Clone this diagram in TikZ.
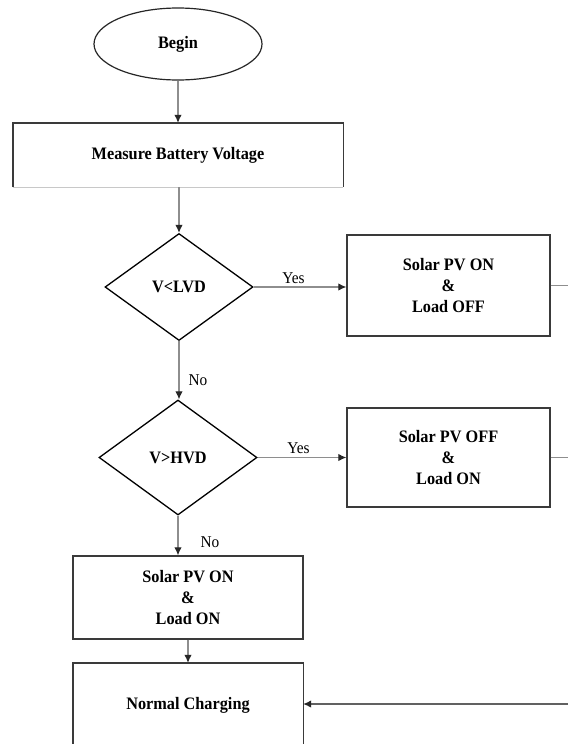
\documentclass[tikz,border=0pt]{standalone}
\usepackage{fontspec}
\setmainfont[FakeStretch=0.93]{Liberation Serif}
\usetikzlibrary{shapes.geometric,arrows.meta}
\definecolor{boxline}{HTML}{3A3A3A}
\definecolor{conn}{HTML}{8E8E8E}
\definecolor{faint}{HTML}{C8C8C8}
\begin{document}
\begin{tikzpicture}[x=1pt,y=-1pt,
  lbl/.style={font=\fontsize{17.5}{21}\selectfont\bfseries, align=center},
  procbox/.style={draw=boxline, line width=1.4pt, rectangle, inner sep=0pt, lbl},
  openbox/.style={draw=none, rectangle, inner sep=0pt, lbl},
  decision/.style={draw=black, line width=1.3pt, diamond, inner sep=0pt, lbl},
  terminal/.style={draw=black!85, line width=1.2pt, ellipse, inner sep=0pt, lbl},
  flow/.style={draw=conn, line width=1.2pt, -{Latex[length=8pt,width=7.5pt,color=black!85]}},
  plain/.style={draw=conn, line width=1.2pt},
  tag/.style={font=\fontsize{16.5}{18}\selectfont, inner sep=0pt}]
\useasboundingbox (0,0) rectangle (568,744);
\clip (0,0) rectangle (568,744);
\fill[white] (0,0) rectangle (568,744);

% nodes
\node[terminal, minimum width=168pt, minimum height=72pt] (begin) at (178,44) {Begin};
\node[openbox, minimum width=330pt, minimum height=64pt] (measure) at (178,155) {Measure Battery Voltage};
\node[decision, minimum width=148pt, minimum height=107pt] (lvd) at (179,287) {V<LVD};
\node[procbox, minimum width=203pt, minimum height=101pt] (pvon) at (448.5,285.5) {Solar PV ON\\\&\\Load OFF};
\node[decision, minimum width=158pt, minimum height=115pt] (hvd) at (178,457.5) {V>HVD};
\node[procbox, minimum width=203pt, minimum height=99pt] (pvoff) at (448.5,457.5) {Solar PV OFF\\\&\\Load ON};
\node[procbox, minimum width=230pt, minimum height=83pt] (both) at (188,597.5) {Solar PV ON\\\&\\Load ON};
\node[openbox, minimum width=230pt, minimum height=84pt] (normal) at (188,705) {Normal Charging};

% borders of the two boxes that run past the page
\draw[boxline, line width=1.4pt] (measure.south west) -- (measure.north west) -- (measure.north east) -- (measure.south east);
\draw[faint, line width=1pt] (measure.south west) -- (measure.south east);
\draw[boxline, line width=1.4pt] (normal.south west) -- (normal.north west) -- (normal.north east) -- (normal.south east);

% loose ends at the right edge
\coordinate (edgeA) at (568,285.5);
\coordinate (edgeB) at (568,457.5);
\coordinate (edgeC) at (568,704);

% connectors
\draw[flow] (begin.south) -- (measure.north);
\draw[flow] (measure.south -| lvd.north) -- (lvd.north);
\draw[flow] (lvd.east) -- node[tag, pos=0.43, above=3pt] {Yes} (lvd.east -| pvon.west);
\draw[plain] (pvon.east) -- (edgeA);
\draw[flow] (lvd.south) -- node[tag, pos=0.67, right=9pt] {No} (lvd.south |- hvd.north);
\draw[flow] (hvd.east) -- node[tag, pos=0.46, above=3pt] {Yes} (pvoff.west);
\draw[plain] (pvoff.east) -- (edgeB);
\draw[flow] (hvd.south) -- node[tag, pos=0.66, right=22pt] {No} (hvd.south |- both.north);
\draw[flow] (both.south) -- (normal.north);
\draw[flow, draw=boxline!80] (edgeC) -- (normal.east |- edgeC);
\end{tikzpicture}
\end{document}
